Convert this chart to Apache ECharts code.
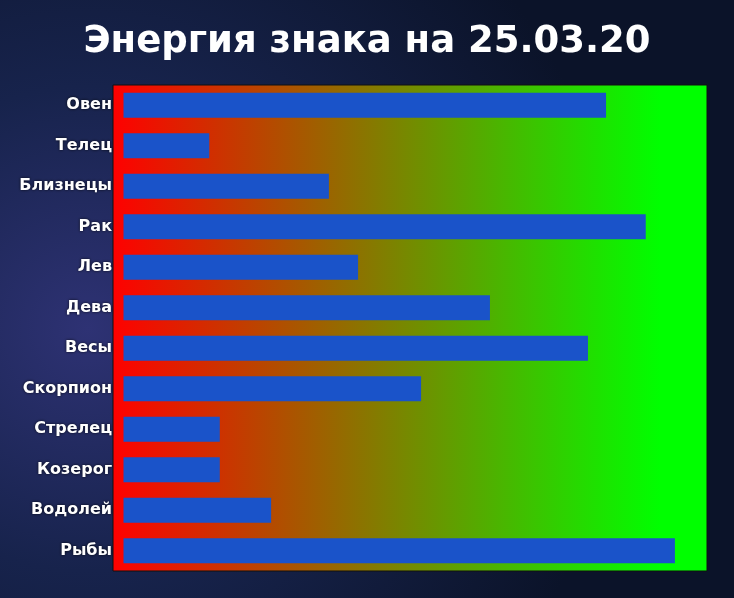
<!DOCTYPE html>
<html>
<head>
<meta charset="utf-8">
<script src="https://cdn.jsdelivr.net/npm/echarts@6/dist/echarts.min.js"></script>
<style>
  html, body { margin: 0; padding: 0; }
  #chart { width: 734px; height: 598px; }
</style>
</head>
<body>
<div id="chart"></div>
<script>
const signs = ['Овен', 'Телец', 'Близнецы', 'Рак', 'Лев', 'Дева', 'Весы', 'Скорпион', 'Стрелец', 'Козерог', 'Водолей', 'Рыбы'];
const energy = [82.7, 14.7, 35.2, 89.5, 40.2, 62.8, 79.6, 51.0, 16.5, 16.5, 25.3, 94.5];

const chart = echarts.init(document.getElementById('chart'));
chart.setOption({
    backgroundColor: new echarts.graphic.RadialGradient(0.12, 0.55, 0.9, [
        { offset: 0, color: '#2e3274' },
        { offset: 0.45, color: '#17234c' },
        { offset: 1, color: '#0b1329' }
    ]),
    title: {
        text: 'Энергия знака на 25.03.20',
        left: 'center',
        top: 19,
        textStyle: {
            color: '#ffffff',
            fontFamily: 'DejaVu Sans',
            fontWeight: 'bold',
            fontSize: 37
        }
    },
    grid: {
        left: 113,
        right: 27,
        top: 85,
        bottom: 27,
        show: true,
        borderColor: '#111111',
        borderWidth: 1,
        backgroundColor: new echarts.graphic.LinearGradient(0, 0, 1, 0, [
            { offset: 0, color: '#ff0000' },
            { offset: 0.92, color: '#00ff00' },
            { offset: 1, color: '#00ff00' }
        ])
    },
    xAxis: {
        type: 'value',
        min: -1.8,
        max: 100,
        show: false
    },
    yAxis: {
        type: 'category',
        data: signs,
        inverse: true,
        axisLine: { show: false },
        axisTick: { show: false },
        axisLabel: {
            margin: 1,
            color: '#ffffff',
            fontFamily: 'DejaVu Sans',
            fontWeight: 'bold',
            fontSize: 16,
            textShadowColor: 'rgba(0,0,0,0.8)',
            textShadowBlur: 3
        }
    },
    series: [{
        type: 'bar',
        data: energy,
        barWidth: 25,
        itemStyle: { color: '#1a53c9' },
        silent: true
    }]
});
</script>
</body>
</html>
